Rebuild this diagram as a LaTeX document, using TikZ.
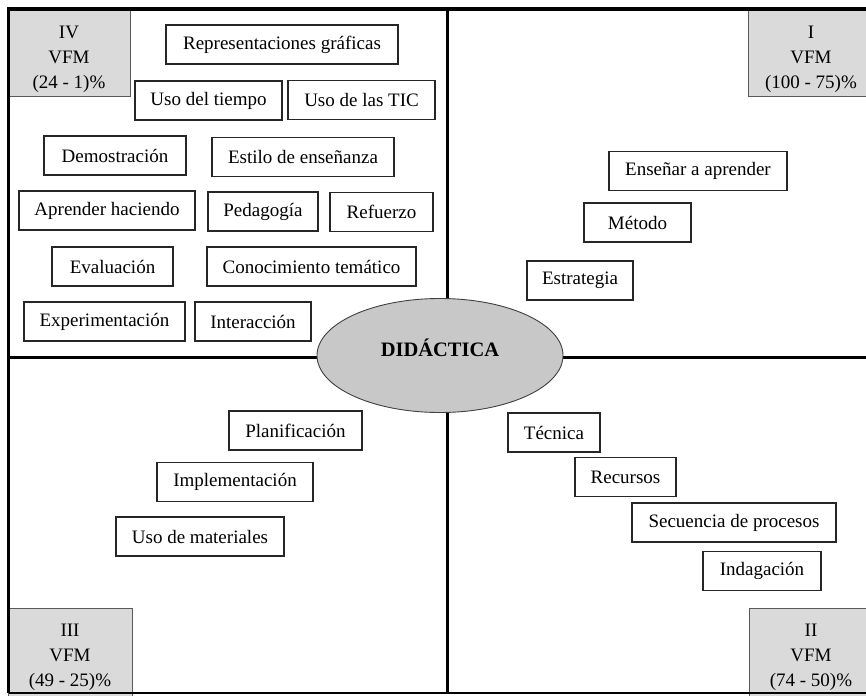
\documentclass[tikz,border=0pt]{standalone}
\usepackage{fontspec}
\setmainfont{Liberation Serif}
\usetikzlibrary{shapes.geometric}

\definecolor{labelgray}{RGB}{218,218,218}
\definecolor{ovalgray}{RGB}{200,200,200}

\begin{document}
\begin{tikzpicture}[
  x=1pt, y=-1pt,
  item/.style = {draw=black!85, line width=1.1pt, minimum height=39pt, inner sep=0pt,
                 font=\fontsize{19}{23}\selectfont},
  quad/.style = {draw=black!65, line width=0.9pt, fill=labelgray, inner sep=0pt,
                 font=\fontsize{19}{25}\selectfont},
  divider/.style = {line width=3.5pt},
  oval/.style = {ellipse, draw=black!75, line width=0.9pt, fill=ovalgray, inner sep=0pt,
                 minimum width=246pt, minimum height=114pt, text height=11.6pt, text depth=10pt,
                 font=\fontsize{20.5}{24}\selectfont\bfseries}
]
\useasboundingbox (0,0) rectangle (866,695);

% Quadrant labels
\node[quad, minimum width=122pt, minimum height=88pt] (qiv) at (69,52.5) {
  \raisebox{-6pt}[\height][\depth]{\begin{tabular}{c} IV \\ VFM \\ (24 - 1)\% \end{tabular}}};
\node[quad, minimum width=126pt, minimum height=88pt] (qi) at (811,52.5) {
  \raisebox{-6pt}[\height][\depth]{\begin{tabular}{c} I \\ VFM \\ (100 - 75)\% \end{tabular}}};
\node[quad, minimum width=124pt, minimum height=92pt] (qiii) at (70,654.5) {
  \raisebox{-1.5pt}[\height][\depth]{\begin{tabular}{c} III \\ VFM \\ (49 - 25)\% \end{tabular}}};
\node[quad, minimum width=124pt, minimum height=92pt] (qii) at (811,654.5) {
  \raisebox{-1.5pt}[\height][\depth]{\begin{tabular}{c} II \\ VFM \\ (74 - 50)\% \end{tabular}}};

% Frame
\coordinate (nw) at (8.5,9);
\coordinate (ne) at (866,9);
\coordinate (sw) at (8.5,693);
\coordinate (se) at (866,693);
\draw[divider] (ne) -- (nw) -- (sw);
\draw[line width=1.2pt] (sw) -- (se);

% Axes
\coordinate (vtop) at (447.5,9);
\coordinate (vbot) at (447.5,693);
\coordinate (hleft) at (8.5,357.5);
\coordinate (hright) at (866,357.5);
\draw[divider] (vtop) -- (vbot);
\draw[divider] (hleft) -- (hright);

% Centre
\node[oval] (didactica) at (440,355.5) {DIDÁCTICA};

% Quadrant IV
\node[item, minimum width=232pt] (repgraf) at (282,44.5) {Representaciones gráficas};
\node[item, minimum width=147pt] (tiempo) at (208.5,100.5) {Uso del tiempo};
\node[item, minimum width=147pt] (tic) at (361.5,100) {Uso de las TIC};
\node[item, minimum width=142pt] (demo) at (115,155.5) {Demostración};
\node[item, minimum width=182pt] (estilo) at (303,157) {Estilo de enseñanza};
\node[item, minimum width=176pt] (haciendo) at (107,210.5) {Aprender haciendo};
\node[item, minimum width=110pt] (pedagogia) at (263,211.5) {Pedagogía};
\node[item, minimum width=103pt] (refuerzo) at (381.5,212) {Refuerzo};
\node[item, minimum width=121pt] (evaluacion) at (112.5,266.5) {Evaluación};
\node[item, minimum width=209pt] (conocimiento) at (311.5,266.5) {Conocimiento temático};
\node[item, minimum width=161pt] (experim) at (104.5,321.5) {Experimentación};
\node[item, minimum width=116pt] (interaccion) at (253,321.5) {Interacción};

% Quadrant I
\node[item, minimum width=178pt] (ensenar) at (698,171) {Enseñar a aprender};
\node[item, minimum width=107pt] (metodo) at (637.5,222.5) {Método};
\node[item, minimum width=106pt] (estrategia) at (580,280.5) {Estrategia};

% Quadrant III
\node[item, minimum width=133pt] (planif) at (295.5,430.5) {Planificación};
\node[item, minimum width=156pt] (implem) at (235,482) {Implementación};
\node[item, minimum width=168pt] (materiales) at (200,536.5) {Uso de materiales};

% Quadrant II
\node[item, minimum width=92pt] (tecnica) at (554,432.5) {Técnica};
\node[item, minimum width=101pt] (recursos) at (625.5,477) {Recursos};
\node[item, minimum width=204pt] (secuencia) at (734,522.5) {Secuencia de procesos};
\node[item, minimum width=118pt] (indagacion) at (762,571) {Indagación};

\end{tikzpicture}
\end{document}
